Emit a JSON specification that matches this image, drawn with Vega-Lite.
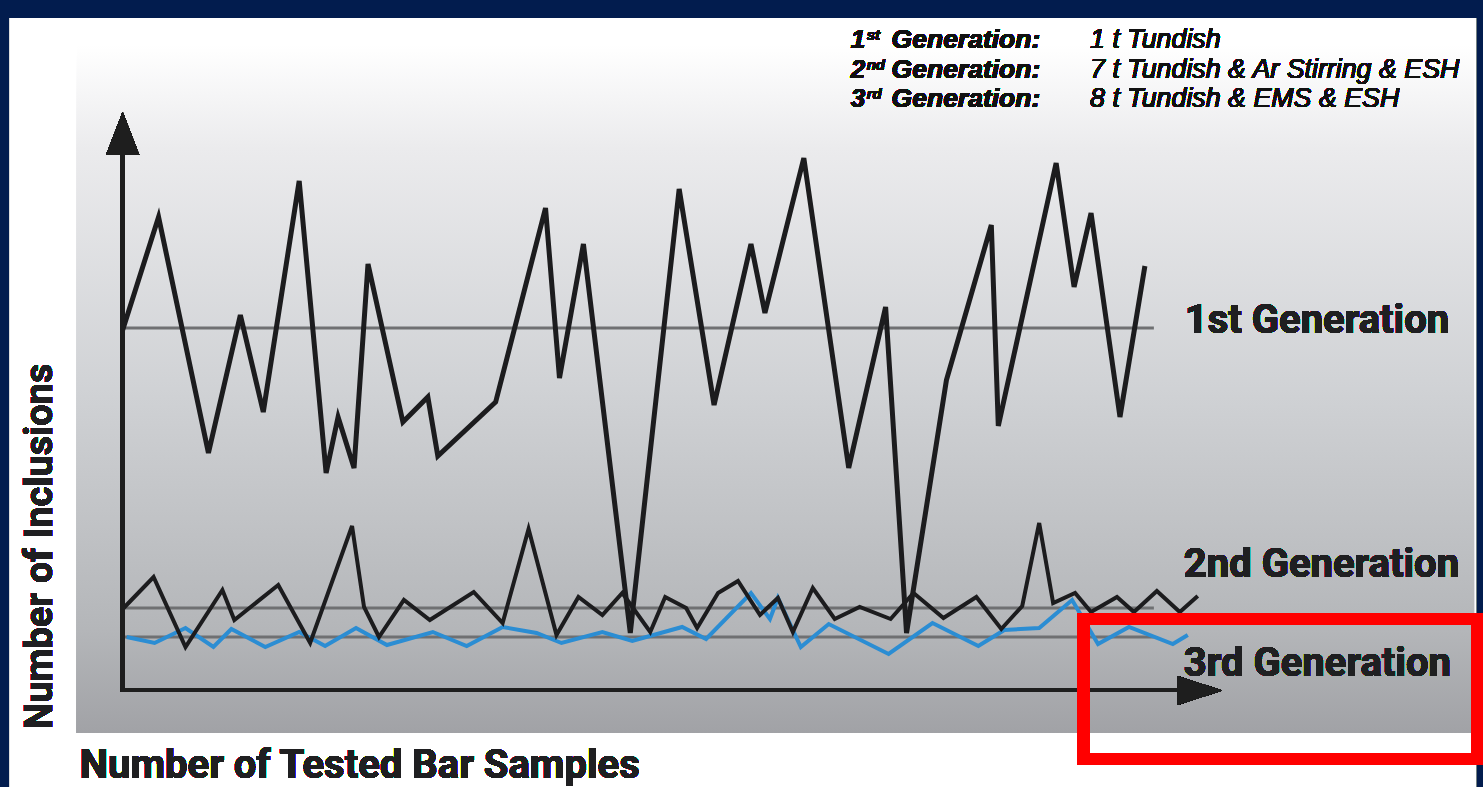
{
  "$schema": "https://vega.github.io/schema/vega-lite/v6.json",
  "width": 1483,
  "height": 787,
  "autosize": {"type": "fit", "contains": "padding"},
  "padding": 0,
  "background": "#021c4e",
  "config": {"view": {"stroke": null}},
  "datasets": {
    "means": [
      {"series": "1st", "level": 362},
      {"series": "2nd", "level": 82},
      {"series": "3rd", "level": 53}
    ],
    "samples": [
      {"series": "1st", "pos": 0, "n": 360}, {"series": "1st", "pos": 36, "n": 473}, {"series": "1st", "pos": 86, "n": 237},
      {"series": "1st", "pos": 118, "n": 375}, {"series": "1st", "pos": 141, "n": 278}, {"series": "1st", "pos": 177, "n": 509},
      {"series": "1st", "pos": 204, "n": 217}, {"series": "1st", "pos": 216, "n": 273}, {"series": "1st", "pos": 232, "n": 222},
      {"series": "1st", "pos": 246, "n": 426}, {"series": "1st", "pos": 281, "n": 268}, {"series": "1st", "pos": 306, "n": 293},
      {"series": "1st", "pos": 316, "n": 234}, {"series": "1st", "pos": 374, "n": 288}, {"series": "1st", "pos": 424, "n": 482},
      {"series": "1st", "pos": 438, "n": 312}, {"series": "1st", "pos": 462, "n": 446}, {"series": "1st", "pos": 509, "n": 57},
      {"series": "1st", "pos": 558, "n": 501}, {"series": "1st", "pos": 593, "n": 285}, {"series": "1st", "pos": 630, "n": 446},
      {"series": "1st", "pos": 644, "n": 377}, {"series": "1st", "pos": 683, "n": 532}, {"series": "1st", "pos": 728, "n": 222},
      {"series": "1st", "pos": 765, "n": 383}, {"series": "1st", "pos": 786, "n": 57}, {"series": "1st", "pos": 826, "n": 310},
      {"series": "1st", "pos": 871, "n": 465}, {"series": "1st", "pos": 878, "n": 264}, {"series": "1st", "pos": 936, "n": 527},
      {"series": "1st", "pos": 954, "n": 403}, {"series": "1st", "pos": 971, "n": 477}, {"series": "1st", "pos": 1000, "n": 273},
      {"series": "1st", "pos": 1025, "n": 424},
      {"series": "2nd", "pos": 1, "n": 82}, {"series": "2nd", "pos": 31, "n": 113}, {"series": "2nd", "pos": 63, "n": 43},
      {"series": "2nd", "pos": 100, "n": 100}, {"series": "2nd", "pos": 112, "n": 70}, {"series": "2nd", "pos": 156, "n": 105},
      {"series": "2nd", "pos": 188, "n": 47}, {"series": "2nd", "pos": 230, "n": 164}, {"series": "2nd", "pos": 242, "n": 83},
      {"series": "2nd", "pos": 257, "n": 53}, {"series": "2nd", "pos": 282, "n": 90}, {"series": "2nd", "pos": 308, "n": 70},
      {"series": "2nd", "pos": 352, "n": 98}, {"series": "2nd", "pos": 381, "n": 67}, {"series": "2nd", "pos": 407, "n": 161},
      {"series": "2nd", "pos": 435, "n": 55}, {"series": "2nd", "pos": 457, "n": 93}, {"series": "2nd", "pos": 481, "n": 75},
      {"series": "2nd", "pos": 501, "n": 97}, {"series": "2nd", "pos": 529, "n": 58}, {"series": "2nd", "pos": 544, "n": 93},
      {"series": "2nd", "pos": 565, "n": 82}, {"series": "2nd", "pos": 576, "n": 62}, {"series": "2nd", "pos": 597, "n": 97},
      {"series": "2nd", "pos": 617, "n": 109}, {"series": "2nd", "pos": 639, "n": 75}, {"series": "2nd", "pos": 657, "n": 92},
      {"series": "2nd", "pos": 672, "n": 58}, {"series": "2nd", "pos": 692, "n": 102}, {"series": "2nd", "pos": 714, "n": 71},
      {"series": "2nd", "pos": 739, "n": 83}, {"series": "2nd", "pos": 770, "n": 71}, {"series": "2nd", "pos": 793, "n": 97},
      {"series": "2nd", "pos": 823, "n": 72}, {"series": "2nd", "pos": 856, "n": 93}, {"series": "2nd", "pos": 881, "n": 61},
      {"series": "2nd", "pos": 902, "n": 84}, {"series": "2nd", "pos": 919, "n": 167}, {"series": "2nd", "pos": 933, "n": 87},
      {"series": "2nd", "pos": 955, "n": 97}, {"series": "2nd", "pos": 971, "n": 78}, {"series": "2nd", "pos": 997, "n": 93},
      {"series": "2nd", "pos": 1014, "n": 78}, {"series": "2nd", "pos": 1037, "n": 99}, {"series": "2nd", "pos": 1060, "n": 78},
      {"series": "2nd", "pos": 1078, "n": 94},
      {"series": "3rd", "pos": 4, "n": 53}, {"series": "3rd", "pos": 32, "n": 47}, {"series": "3rd", "pos": 63, "n": 62},
      {"series": "3rd", "pos": 91, "n": 43}, {"series": "3rd", "pos": 109, "n": 61}, {"series": "3rd", "pos": 143, "n": 43},
      {"series": "3rd", "pos": 177, "n": 58}, {"series": "3rd", "pos": 203, "n": 44}, {"series": "3rd", "pos": 234, "n": 62},
      {"series": "3rd", "pos": 265, "n": 45}, {"series": "3rd", "pos": 311, "n": 58}, {"series": "3rd", "pos": 345, "n": 44},
      {"series": "3rd", "pos": 381, "n": 63}, {"series": "3rd", "pos": 415, "n": 57}, {"series": "3rd", "pos": 440, "n": 47},
      {"series": "3rd", "pos": 481, "n": 58}, {"series": "3rd", "pos": 511, "n": 49}, {"series": "3rd", "pos": 561, "n": 63},
      {"series": "3rd", "pos": 585, "n": 51}, {"series": "3rd", "pos": 630, "n": 97}, {"series": "3rd", "pos": 649, "n": 71},
      {"series": "3rd", "pos": 657, "n": 92}, {"series": "3rd", "pos": 680, "n": 43}, {"series": "3rd", "pos": 708, "n": 66},
      {"series": "3rd", "pos": 768, "n": 36}, {"series": "3rd", "pos": 812, "n": 67}, {"series": "3rd", "pos": 858, "n": 44},
      {"series": "3rd", "pos": 884, "n": 60}, {"series": "3rd", "pos": 919, "n": 62}, {"series": "3rd", "pos": 952, "n": 90},
      {"series": "3rd", "pos": 978, "n": 46}, {"series": "3rd", "pos": 1009, "n": 63}, {"series": "3rd", "pos": 1053, "n": 46},
      {"series": "3rd", "pos": 1068, "n": 55}
    ]
  },
  "data": {"name": "samples"},
  "layer": [
    {
      "mark": {"type": "rect", "fill": "#ffffff"},
      "encoding": {
        "x": {"datum": -113, "type": "quantitative", "scale": {"domain": [-123, 1360], "nice": false, "zero": false}, "axis": null},
        "x2": {"datum": 1357},
        "y": {"datum": 672, "type": "quantitative", "scale": {"domain": [-97, 690], "nice": false, "zero": false}, "axis": null},
        "y2": {"datum": -97}
      }
    },
    {
      "mark": {"type": "rect", "fill": {"gradient": "linear", "x1": 0, "y1": 0, "x2": 0, "y2": 1, "stops": [
        {"offset": 0, "color": "#ffffff"},
        {"offset": 0.15, "color": "#ebebed"},
        {"offset": 0.5, "color": "#d0d2d5"},
        {"offset": 0.85, "color": "#b4b6b9"},
        {"offset": 1, "color": "#a1a2a6"}
      ]}},
      "encoding": {
        "x": {"datum": -46, "type": "quantitative", "scale": {"domain": [-123, 1360], "nice": false, "zero": false}, "axis": null},
        "x2": {"datum": 1355},
        "y": {"datum": 645, "type": "quantitative", "scale": {"domain": [-97, 690], "nice": false, "zero": false}, "axis": null},
        "y2": {"datum": -43}
      }
    },
    {
      "data": {"name": "means"},
      "mark": {"type": "rule", "color": "#6f7072", "strokeWidth": 3},
      "encoding": {
        "x": {"datum": 0, "type": "quantitative", "scale": {"domain": [-123, 1360], "nice": false, "zero": false}, "axis": null},
        "x2": {"datum": 1034},
        "y": {"field": "level", "type": "quantitative", "scale": {"domain": [-97, 690], "nice": false, "zero": false}, "axis": null}
      }
    },
    {
      "transform": [{"filter": "datum.series === '3rd'"}],
      "mark": {"type": "line", "color": "#2b8dd3", "strokeWidth": 4, "strokeJoin": "miter"},
      "encoding": {
        "x": {"field": "pos", "type": "quantitative", "scale": {"domain": [-123, 1360], "nice": false, "zero": false}, "axis": null},
        "y": {"field": "n", "type": "quantitative", "scale": {"domain": [-97, 690], "nice": false, "zero": false}, "axis": null}
      }
    },
    {
      "transform": [{"filter": "datum.series === '2nd'"}],
      "mark": {"type": "line", "color": "#1c1c1e", "strokeWidth": 4, "strokeJoin": "miter"},
      "encoding": {
        "x": {"field": "pos", "type": "quantitative", "scale": {"domain": [-123, 1360], "nice": false, "zero": false}, "axis": null},
        "y": {"field": "n", "type": "quantitative", "scale": {"domain": [-97, 690], "nice": false, "zero": false}, "axis": null}
      }
    },
    {
      "transform": [{"filter": "datum.series === '1st'"}],
      "mark": {"type": "line", "color": "#1c1c1e", "strokeWidth": 5, "strokeJoin": "miter"},
      "encoding": {
        "x": {"field": "pos", "type": "quantitative", "scale": {"domain": [-123, 1360], "nice": false, "zero": false}, "axis": null},
        "y": {"field": "n", "type": "quantitative", "scale": {"domain": [-97, 690], "nice": false, "zero": false}, "axis": null}
      }
    },
    {
      "mark": {"type": "rule", "color": "#1e1e1e", "strokeWidth": 4},
      "encoding": {
        "x": {"datum": 0, "type": "quantitative", "scale": {"domain": [-123, 1360], "nice": false, "zero": false}, "axis": null},
        "y": {"datum": -2, "type": "quantitative", "scale": {"domain": [-97, 690], "nice": false, "zero": false}, "axis": null},
        "y2": {"datum": 537}
      }
    },
    {
      "mark": {"type": "rule", "color": "#1e1e1e", "strokeWidth": 4},
      "encoding": {
        "x": {"datum": -2, "type": "quantitative", "scale": {"domain": [-123, 1360], "nice": false, "zero": false}, "axis": null},
        "x2": {"datum": 1060},
        "y": {"datum": 0, "type": "quantitative", "scale": {"domain": [-97, 690], "nice": false, "zero": false}, "axis": null}
      }
    },
    {
      "mark": {"type": "point", "shape": "M0,-1L0.77,1L-0.77,1Z", "filled": true, "opacity": 1, "color": "#1e1e1e", "size": 1849},
      "encoding": {
        "x": {"datum": 0, "type": "quantitative", "scale": {"domain": [-123, 1360], "nice": false, "zero": false}, "axis": null},
        "y": {"datum": 556.5, "type": "quantitative", "scale": {"domain": [-97, 690], "nice": false, "zero": false}, "axis": null}
      }
    },
    {
      "mark": {"type": "point", "shape": "M1,0L-1,0.644L-1,-0.644Z", "filled": true, "opacity": 1, "color": "#1e1e1e", "size": 2025},
      "encoding": {
        "x": {"datum": 1080, "type": "quantitative", "scale": {"domain": [-123, 1360], "nice": false, "zero": false}, "axis": null},
        "y": {"datum": -0.5, "type": "quantitative", "scale": {"domain": [-97, 690], "nice": false, "zero": false}, "axis": null}
      }
    },
    {
      "mark": {"type": "text", "text": "1st Generation", "font": "Roboto", "fontWeight": "bold", "fontSize": 40, "align": "left", "baseline": "alphabetic", "color": "#1f1f21"},
      "encoding": {
        "x": {"datum": 1065, "type": "quantitative", "scale": {"domain": [-123, 1360], "nice": false, "zero": false}, "axis": null},
        "y": {"datum": 357, "type": "quantitative", "scale": {"domain": [-97, 690], "nice": false, "zero": false}, "axis": null}
      }
    },
    {
      "mark": {"type": "text", "text": "2nd Generation", "font": "Roboto", "fontWeight": "bold", "fontSize": 40, "align": "left", "baseline": "alphabetic", "color": "#1f1f21"},
      "encoding": {
        "x": {"datum": 1064, "type": "quantitative", "scale": {"domain": [-123, 1360], "nice": false, "zero": false}, "axis": null},
        "y": {"datum": 113, "type": "quantitative", "scale": {"domain": [-97, 690], "nice": false, "zero": false}, "axis": null}
      }
    },
    {
      "mark": {"type": "text", "text": "3rd Generation", "font": "Roboto", "fontWeight": "bold", "fontSize": 40, "align": "left", "baseline": "alphabetic", "color": "#1f1f21"},
      "encoding": {
        "x": {"datum": 1064, "type": "quantitative", "scale": {"domain": [-123, 1360], "nice": false, "zero": false}, "axis": null},
        "y": {"datum": 14, "type": "quantitative", "scale": {"domain": [-97, 690], "nice": false, "zero": false}, "axis": null}
      }
    },
    {
      "mark": {"type": "text", "text": "Number of Tested Bar Samples", "font": "Roboto", "fontWeight": "bold", "fontSize": 40, "align": "left", "baseline": "alphabetic", "color": "#1f1f21"},
      "encoding": {
        "x": {"datum": -43, "type": "quantitative", "scale": {"domain": [-123, 1360], "nice": false, "zero": false}, "axis": null},
        "y": {"datum": -88, "type": "quantitative", "scale": {"domain": [-97, 690], "nice": false, "zero": false}, "axis": null}
      }
    },
    {
      "mark": {"type": "text", "text": "Number of Inclusions", "font": "Roboto", "fontWeight": "bold", "fontSize": 38, "angle": 270, "align": "center", "baseline": "alphabetic", "color": "#1f1f21"},
      "encoding": {
        "x": {"datum": -71, "type": "quantitative", "scale": {"domain": [-123, 1360], "nice": false, "zero": false}, "axis": null},
        "y": {"datum": 143.5, "type": "quantitative", "scale": {"domain": [-97, 690], "nice": false, "zero": false}, "axis": null}
      }
    },
    {
      "mark": {"type": "text", "text": ["1", "2", "3"], "lineHeight": 29.5, "font": "Liberation Sans", "fontWeight": "bold", "fontStyle": "italic", "fontSize": 26, "align": "left", "baseline": "alphabetic", "color": "#111111"},
      "encoding": {
        "x": {"datum": 730, "type": "quantitative", "scale": {"domain": [-123, 1360], "nice": false, "zero": false}, "axis": null},
        "y": {"datum": 642, "type": "quantitative", "scale": {"domain": [-97, 690], "nice": false, "zero": false}, "axis": null}
      }
    },
    {
      "mark": {"type": "text", "text": ["st", "nd", "rd"], "lineHeight": 29.5, "font": "Liberation Sans", "fontWeight": "bold", "fontStyle": "italic", "fontSize": 15, "align": "left", "baseline": "alphabetic", "color": "#111111"},
      "encoding": {
        "x": {"datum": 746, "type": "quantitative", "scale": {"domain": [-123, 1360], "nice": false, "zero": false}, "axis": null},
        "y": {"datum": 650, "type": "quantitative", "scale": {"domain": [-97, 690], "nice": false, "zero": false}, "axis": null}
      }
    },
    {
      "mark": {"type": "text", "text": ["Generation:", "Generation:", "Generation:"], "lineHeight": 29.5, "font": "Liberation Sans", "fontWeight": "bold", "fontStyle": "italic", "fontSize": 26.5, "align": "left", "baseline": "alphabetic", "color": "#111111"},
      "encoding": {
        "x": {"datum": 771, "type": "quantitative", "scale": {"domain": [-123, 1360], "nice": false, "zero": false}, "axis": null},
        "y": {"datum": 642, "type": "quantitative", "scale": {"domain": [-97, 690], "nice": false, "zero": false}, "axis": null}
      }
    },
    {
      "mark": {"type": "text", "text": ["1 t Tundish", "7 t Tundish & Ar Stirring & ESH", "8 t Tundish & EMS & ESH"], "lineHeight": 29.5, "font": "Liberation Sans", "fontStyle": "italic", "fontSize": 26.8, "align": "left", "baseline": "alphabetic", "color": "#111111"},
      "encoding": {
        "x": {"datum": 970, "type": "quantitative", "scale": {"domain": [-123, 1360], "nice": false, "zero": false}, "axis": null},
        "y": {"datum": 642, "type": "quantitative", "scale": {"domain": [-97, 690], "nice": false, "zero": false}, "axis": null}
      }
    },
    {
      "mark": {"type": "rect", "fillOpacity": 0, "stroke": "#ff0000", "strokeWidth": 12},
      "encoding": {
        "x": {"datum": 963.7, "type": "quantitative", "scale": {"domain": [-123, 1360], "nice": false, "zero": false}, "axis": null},
        "x2": {"datum": 1358},
        "y": {"datum": 71, "type": "quantitative", "scale": {"domain": [-97, 690], "nice": false, "zero": false}, "axis": null},
        "y2": {"datum": -69}
      }
    }
  ]
}
